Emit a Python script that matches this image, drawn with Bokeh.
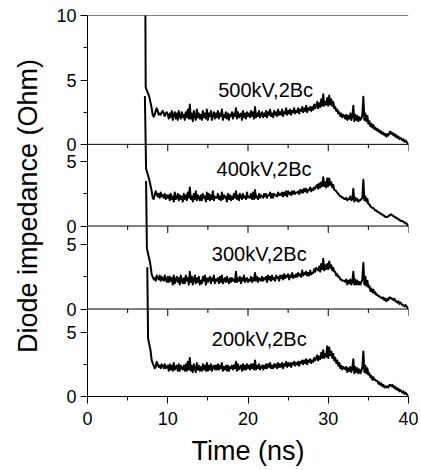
from bokeh.plotting import figure
from bokeh.models import Range1d, FixedTicker, Span
from bokeh.core.properties import value
from bokeh.embed import file_html
from bokeh.resources import INLINE

# ---------------- data ----------------
labels = ["500kV,2Bc", "400kV,2Bc", "300kV,2Bc", "200kV,2Bc"]
x_ticks = [0, 10, 20, 30, 40]
x_minor = [5, 15, 25, 35]

# sample times of the noisy part (ns): 8.125 .. 40.0, every 0.125 ns
body_t = [8.125 + 0.125 * i for i in range(256)]

head_t_500 = [7.2, 7.25, 7.7, 8.0]
head_z_500 = [12.0, 4.45, 3.7, 2.8]
body_500 = [
    2.3, 2.15, 2.3, 2.6, 2.8, 2.6, 2.3, 2.4, 2.3, 2.5, 2.6, 2.4, 2.2, 2.4, 2.5, 2.3,
    2.0, 2.4, 2.1, 2.6, 1.9, 2.3, 2.5, 2.0, 2.4, 1.9, 2.6, 2.2, 2.0, 2.5, 2.1, 2.3,
    1.9, 2.5, 2.1, 2.7, 2.0, 3.1, 2.0, 2.4, 1.8, 2.6, 2.2, 1.9, 2.7, 2.1, 2.4, 2.0,
    2.3, 1.9, 2.6, 2.1, 2.4, 2.0, 2.7, 1.9, 2.4, 2.2, 2.6, 1.9, 2.3, 2.5, 2.0, 2.4,
    2.1, 2.6, 2.0, 2.4, 2.2, 2.7, 1.9, 2.3, 2.1, 2.5, 2.0, 2.4, 1.9, 2.3, 2.2, 2.5,
    2.0, 2.4, 2.2, 2.8, 2.0, 2.5, 2.1, 2.3, 2.4, 1.9, 2.6, 2.1, 2.4, 2.0, 2.5, 2.2,
    2.4, 2.1, 2.6, 2.2, 2.5, 2.0, 2.9, 2.1, 2.4, 2.2, 2.6, 2.1, 2.3, 2.5, 2.1, 2.4,
    2.2, 2.6, 2.1, 2.5, 2.3, 2.7, 2.2, 2.4, 2.1, 2.6, 2.3, 2.5, 2.2, 2.7, 2.3, 2.5,
    2.3, 2.7, 2.2, 2.5, 2.4, 2.8, 2.3, 2.6, 2.4, 2.7, 2.3, 2.6, 2.5, 2.8, 2.4, 2.6,
    2.5, 2.8, 2.4, 2.7, 2.6, 2.9, 2.5, 2.8, 2.6, 3.0, 2.5, 2.8, 2.7, 2.9, 2.6, 2.9,
    2.7, 3.1, 2.8, 3.0, 3.3, 2.8, 3.2, 2.9, 3.5, 3.0, 3.9, 3.0, 3.3, 3.1, 3.6, 3.0,
    3.8, 3.1, 3.5, 3.0, 3.3, 2.8, 2.9, 2.6, 2.7, 2.4, 2.5, 2.2, 2.4, 2.1, 2.3, 2.2,
    2.0, 2.3, 1.9, 2.2, 2.0, 2.4, 1.9, 2.2, 3.0, 1.8, 2.3, 1.9, 2.2, 1.8, 2.1, 1.9,
    2.0, 2.3, 3.7, 1.9, 2.4, 1.8, 2.2, 1.6, 1.8, 1.4, 1.6, 1.3, 1.5, 1.2, 1.3, 1.1,
    1.2, 1.0, 1.1, 0.9, 1.0, 0.8, 0.9, 0.7, 0.8, 0.6, 0.8, 0.7, 0.9, 1.0, 0.8, 0.9,
    0.7, 0.8, 0.6, 0.7, 0.5, 0.6, 0.4, 0.5, 0.4, 0.3, 0.4, 0.2, 0.3, 0.2, 0.1, 0.0,
]

head_t_400 = [7.15, 7.3, 7.7, 8.0]
head_z_400 = [10.1, 4.45, 3.6, 2.7]
body_400 = [
    2.2, 2.1, 2.4, 2.7, 2.5, 2.3, 2.5, 2.2, 2.6, 2.3, 2.4, 2.2, 2.5, 2.1, 2.4, 2.2,
    2.4, 2.0, 2.5, 2.1, 2.3, 1.9, 2.6, 2.1, 2.2, 2.5, 2.0, 2.4, 2.1, 2.3, 1.9, 2.5,
    2.1, 2.4, 2.0, 2.6, 2.2, 3.0, 2.1, 2.3, 1.9, 2.5, 2.1, 2.7, 2.0, 2.4, 2.2, 2.0,
    2.4, 2.0, 2.5, 2.2, 2.3, 1.9, 2.6, 2.1, 2.5, 2.0, 2.4, 2.1, 2.7, 2.0, 2.3, 2.2,
    2.2, 2.5, 2.1, 2.3, 2.0, 2.6, 2.1, 2.4, 2.2, 2.3, 1.9, 2.5, 2.1, 2.4, 2.0, 2.3,
    2.1, 2.5, 2.2, 2.7, 2.1, 2.4, 2.0, 2.5, 2.3, 2.1, 2.5, 2.2, 2.3, 2.1, 2.6, 2.2,
    2.3, 2.2, 2.5, 2.1, 2.6, 2.1, 2.8, 2.2, 2.3, 2.1, 2.5, 2.2, 2.4, 2.3, 2.2, 2.5,
    2.3, 2.5, 2.2, 2.4, 2.4, 2.6, 2.2, 2.5, 2.2, 2.5, 2.4, 2.4, 2.3, 2.6, 2.4, 2.5,
    2.4, 2.6, 2.3, 2.6, 2.4, 2.7, 2.3, 2.7, 2.5, 2.6, 2.4, 2.7, 2.5, 2.7, 2.5, 2.6,
    2.6, 2.7, 2.5, 2.8, 2.6, 2.8, 2.6, 2.9, 2.7, 2.9, 2.6, 2.8, 2.8, 3.0, 2.7, 2.9,
    2.8, 3.0, 2.9, 3.1, 3.2, 2.9, 3.3, 3.0, 3.4, 3.1, 3.8, 3.1, 3.4, 3.0, 3.7, 3.1,
    3.7, 3.2, 3.4, 3.0, 3.2, 2.8, 2.8, 2.7, 2.6, 2.5, 2.4, 2.3, 2.3, 2.2, 2.2, 2.1,
    2.1, 2.2, 2.0, 2.1, 2.1, 2.3, 2.0, 2.1, 2.9, 1.9, 2.2, 2.0, 2.1, 1.9, 2.0, 2.0,
    2.1, 2.2, 3.6, 2.0, 2.3, 1.9, 2.1, 1.7, 1.7, 1.5, 1.5, 1.4, 1.4, 1.3, 1.2, 1.2,
    1.1, 1.1, 1.0, 1.0, 0.9, 0.9, 0.8, 0.8, 0.7, 0.7, 0.7, 0.8, 0.8, 0.9, 0.9, 0.8,
    0.8, 0.7, 0.7, 0.6, 0.6, 0.5, 0.5, 0.4, 0.4, 0.4, 0.3, 0.3, 0.2, 0.2, 0.1, 0.0,
]

head_t_300 = [7.3, 7.4, 7.8, 8.0]
head_z_300 = [9.95, 4.7, 3.6, 2.7]
body_300 = [
    2.5, 2.3, 2.4, 2.2, 2.6, 2.4, 2.3, 2.6, 2.2, 2.5, 2.3, 2.2, 2.6, 2.3, 2.1, 2.5,
    2.1, 2.5, 2.2, 2.4, 1.9, 2.6, 2.0, 2.3, 2.5, 2.1, 2.4, 1.9, 2.6, 2.2, 2.0, 2.4,
    2.0, 2.6, 2.2, 2.4, 1.9, 2.9, 2.1, 2.5, 1.9, 2.3, 2.6, 2.0, 2.4, 2.1, 2.5, 1.9,
    2.2, 2.0, 2.5, 2.2, 2.6, 1.9, 2.4, 2.1, 2.3, 2.5, 2.0, 2.4, 2.2, 2.6, 2.0, 2.3,
    2.2, 2.4, 2.0, 2.5, 2.1, 2.6, 2.0, 2.2, 2.4, 2.1, 2.5, 2.2, 2.0, 2.4, 2.1, 2.4,
    2.2, 2.3, 2.1, 2.9, 2.1, 2.4, 2.2, 2.5, 2.0, 2.4, 2.2, 2.6, 2.1, 2.3, 2.4, 2.1,
    2.3, 2.2, 2.5, 2.1, 2.4, 2.2, 2.8, 2.2, 2.5, 2.1, 2.4, 2.3, 2.2, 2.5, 2.2, 2.4,
    2.3, 2.5, 2.1, 2.6, 2.3, 2.5, 2.2, 2.6, 2.3, 2.4, 2.2, 2.6, 2.4, 2.5, 2.2, 2.6,
    2.4, 2.6, 2.3, 2.7, 2.4, 2.6, 2.5, 2.7, 2.3, 2.6, 2.5, 2.8, 2.4, 2.6, 2.5, 2.7,
    2.5, 2.8, 2.6, 2.7, 2.5, 3.0, 2.6, 2.8, 2.7, 2.9, 2.6, 2.8, 2.6, 3.0, 2.7, 2.8,
    2.8, 3.1, 2.9, 3.2, 3.1, 3.0, 3.3, 2.9, 3.5, 3.1, 3.9, 3.0, 3.4, 3.1, 3.5, 3.1,
    3.7, 3.2, 3.4, 3.0, 3.2, 2.9, 2.9, 2.6, 2.7, 2.5, 2.5, 2.3, 2.3, 2.2, 2.2, 2.2,
    2.1, 2.3, 1.9, 2.2, 2.0, 2.3, 1.9, 2.1, 2.9, 1.9, 2.3, 1.9, 2.2, 1.9, 2.1, 1.9,
    2.1, 2.3, 3.6, 1.9, 2.5, 1.8, 2.2, 1.7, 1.8, 1.4, 1.6, 1.3, 1.5, 1.2, 1.3, 1.1,
    1.1, 1.0, 1.0, 0.9, 0.9, 0.8, 0.9, 0.7, 0.8, 0.6, 0.8, 0.7, 0.9, 0.9, 0.8, 0.8,
    0.7, 0.8, 0.6, 0.6, 0.5, 0.6, 0.4, 0.5, 0.4, 0.3, 0.3, 0.2, 0.3, 0.2, 0.1, 0.0,
]

head_t_200 = [7.45, 7.55, 7.85, 8.0]
head_z_200 = [10.05, 4.5, 3.6, 2.8]
body_200 = [
    2.6, 2.4, 2.2, 2.3, 2.7, 2.5, 2.3, 2.4, 2.2, 2.5, 2.4, 2.2, 2.5, 2.2, 2.3, 2.4,
    2.0, 2.5, 2.1, 2.4, 2.0, 2.6, 2.1, 2.3, 2.4, 2.0, 2.5, 2.0, 2.4, 2.2, 2.1, 2.4,
    2.0, 2.5, 2.0, 2.7, 2.1, 3.0, 2.0, 2.4, 1.9, 2.5, 2.2, 1.9, 2.6, 2.1, 2.4, 2.0,
    2.3, 2.0, 2.5, 2.1, 2.4, 2.0, 2.6, 2.0, 2.4, 2.1, 2.5, 2.0, 2.3, 2.4, 2.1, 2.4,
    2.1, 2.5, 2.1, 2.4, 2.2, 2.6, 2.0, 2.3, 2.1, 2.4, 2.0, 2.4, 2.0, 2.3, 2.2, 2.4,
    2.1, 2.4, 2.2, 2.7, 2.0, 2.5, 2.1, 2.3, 2.4, 2.0, 2.5, 2.1, 2.4, 2.1, 2.5, 2.2,
    2.4, 2.1, 2.5, 2.2, 2.5, 2.1, 2.8, 2.1, 2.4, 2.2, 2.5, 2.1, 2.3, 2.4, 2.1, 2.4,
    2.2, 2.5, 2.2, 2.5, 2.3, 2.6, 2.2, 2.4, 2.2, 2.5, 2.3, 2.5, 2.2, 2.6, 2.3, 2.5,
    2.3, 2.6, 2.2, 2.5, 2.4, 2.7, 2.3, 2.6, 2.4, 2.6, 2.3, 2.6, 2.5, 2.7, 2.4, 2.6,
    2.5, 2.7, 2.4, 2.7, 2.6, 2.8, 2.5, 2.8, 2.6, 2.9, 2.5, 2.8, 2.7, 2.9, 2.6, 2.8,
    2.7, 3.0, 2.8, 3.0, 3.2, 2.8, 3.1, 2.9, 3.4, 3.0, 3.6, 3.0, 3.3, 3.1, 3.9, 3.0,
    3.8, 3.2, 3.5, 3.0, 3.3, 2.8, 3.0, 2.6, 2.8, 2.4, 2.6, 2.2, 2.4, 2.1, 2.3, 2.2,
    2.1, 2.3, 1.9, 2.2, 2.0, 2.3, 1.9, 2.2, 2.9, 1.8, 2.3, 1.9, 2.2, 1.8, 2.1, 1.8,
    2.0, 2.3, 3.5, 1.9, 2.4, 1.8, 2.2, 1.7, 1.8, 1.5, 1.6, 1.3, 1.5, 1.3, 1.3, 1.2,
    1.2, 1.0, 1.1, 0.9, 1.0, 0.8, 0.9, 0.7, 0.8, 0.7, 0.8, 0.7, 0.9, 0.9, 0.8, 0.9,
    0.7, 0.8, 0.6, 0.7, 0.5, 0.6, 0.4, 0.5, 0.4, 0.3, 0.4, 0.2, 0.3, 0.2, 0.1, 0.0,
]

# ---------------- layout (stacked panels in one frame) ----------------
FONT = "Liberation Sans"
PX_PER_UNIT = 13.0
FRAME_H = 385
TOP = FRAME_H / PX_PER_UNIT
bases = [19.6, 13.25, 6.8, 0.0]          # panel zero lines, top to bottom
label_x = [22.2, 22.0, 21.4, 21.4]
label_dy = [4.23, 4.42, 4.25, 4.5]

series = [
    (head_t_500, head_z_500, body_500),
    (head_t_400, head_z_400, body_400),
    (head_t_300, head_z_300, body_300),
    (head_t_200, head_z_200, body_200),
]

p = figure(width=418, height=468, x_range=Range1d(0, 40), y_range=Range1d(0, TOP),
           output_backend="svg", toolbar_location=None,
           min_border_left=87, min_border_right=10, min_border_top=15,
           min_border_bottom=68)
p.grid.visible = False
p.outline_line_color = None

# traces
for (ht, hz, bz), b in zip(series, bases):
    t = ht + body_t
    y = [b + v for v in (hz + bz)]
    p.line(t, y, line_color="black", line_width=2.0, line_join="round")

# separators / top line
for b in bases[:3]:
    p.add_layout(Span(location=b, dimension="width", line_color="black", line_width=1))
p.add_layout(Span(location=TOP, dimension="width", line_color="black", line_width=1))

# downward ticks on the separators
maj_len = 7 / PX_PER_UNIT
min_len = 4 / PX_PER_UNIT
for b in bases[:3]:
    p.segment(x0=x_ticks, x1=x_ticks, y0=[b] * len(x_ticks), y1=[b - maj_len] * len(x_ticks),
              line_color="black", line_width=1)
    p.segment(x0=x_minor, x1=x_minor, y0=[b] * len(x_minor), y1=[b - min_len] * len(x_minor),
              line_color="black", line_width=1)

# annotations
p.text(x=label_x, y=[b + d for b, d in zip(bases, label_dy)], text=labels,
       text_font=value(FONT), text_font_size="20px", text_align="center",
       text_baseline="middle", text_color="black")

# y axis
y_major = []
y_minor = []
overrides = {}
for i, b in enumerate(bases):
    vals = [0, 5, 10] if i == 0 else [0, 5]
    for v in vals:
        y_major.append(b + v)
        overrides[b + v] = str(v)
    y_minor.append(b + 2.5)
    if i == 0:
        y_minor.append(b + 7.5)
yax = p.yaxis[0]
yax.ticker = FixedTicker(ticks=y_major, minor_ticks=y_minor)
yax.major_label_overrides = overrides
yax.axis_label = "Diode impedance (Ohm)"

xax = p.xaxis[0]
xax.ticker = FixedTicker(ticks=x_ticks, minor_ticks=x_minor)
xax.axis_label = "Time (ns)"

for ax in (xax, yax):
    ax.major_tick_out = 7
    ax.major_tick_in = 0
    ax.minor_tick_out = 4
    ax.minor_tick_in = 0
    ax.axis_line_color = "black"
    ax.major_tick_line_color = "black"
    ax.minor_tick_line_color = "black"
    ax.major_label_text_font = FONT
    ax.major_label_text_font_size = "18px"
    ax.major_label_text_color = "black"
    ax.axis_label_text_font = FONT
    ax.axis_label_text_font_size = "27px"
    ax.axis_label_text_font_style = "normal"
    ax.axis_label_text_color = "black"
yax.major_label_standoff = 4
xax.major_label_standoff = 8
xax.axis_label_standoff = 8
yax.axis_label_standoff = 10

open("out.html", "w").write(file_html(p, INLINE))
